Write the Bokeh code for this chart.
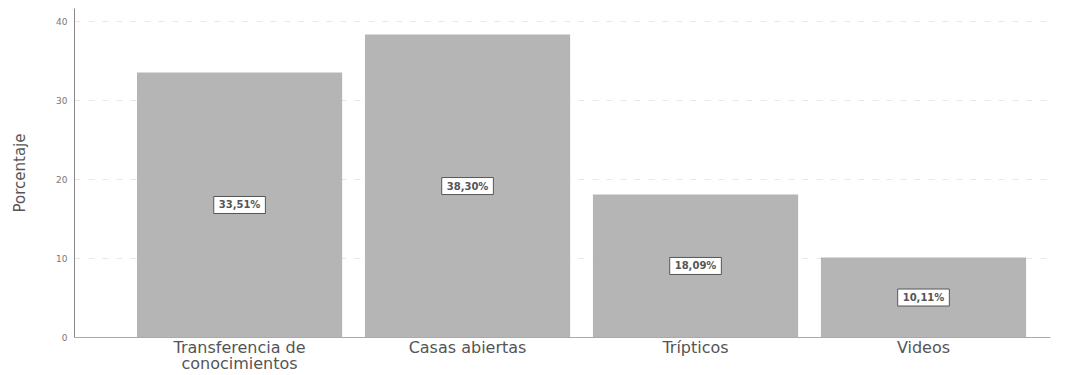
from bokeh.plotting import figure
from bokeh.models import ColumnDataSource, Label, FixedTicker, Range1d
from bokeh.embed import file_html
from bokeh.resources import INLINE

categories = ["Transferencia de\nconocimientos", "Casas abiertas", "Trípticos", "Videos"]
values = [33.51, 38.30, 18.09, 10.11]
value_labels = ["33,51%", "38,30%", "18,09%", "10,11%"]
y_ticks = [0, 10, 20, 30, 40]

xs = list(range(1, len(categories) + 1))

FONT = "DejaVu Sans"

p = figure(width=1066, height=375, output_backend="svg", toolbar_location=None,
           x_range=Range1d(0.276, 4.557), y_range=Range1d(0, 41.6),
           min_border_left=74, min_border_right=16, min_border_top=8, min_border_bottom=30)
p.outline_line_color = None
p.background_fill_color = "white"

src = ColumnDataSource(dict(x=xs, top=values))
p.vbar(x="x", top="top", width=0.9, source=src, fill_color="#b5b5b5", line_color=None)

# value labels
for x, v, lab in zip(xs, values, value_labels):
    p.add_layout(Label(x=x, y=v / 2, text=lab, text_align="center",
                       text_baseline="middle", text_font=FONT, text_font_size="10px",
                       text_font_style="bold", text_color="#555555",
                       background_fill_color="white", border_line_color="#555555",
                       border_line_width=1, padding=(5, 3)))

# axes
p.xaxis.ticker = FixedTicker(ticks=xs)
p.xaxis.major_label_overrides = {x: c for x, c in zip(xs, categories)}
p.xaxis.axis_line_color = "#aaaaaa"
p.xaxis.major_tick_line_color = None
p.xaxis.minor_tick_line_color = None
p.xaxis.major_tick_in = 0
p.xaxis.major_tick_out = 0
p.xaxis.major_label_standoff = 0
p.xaxis.major_label_text_font = FONT
p.xaxis.major_label_text_font_size = "16px"
p.xaxis.major_label_text_color = "#555555"
p.xaxis.major_label_text_line_height = 0.85

p.yaxis.ticker = FixedTicker(ticks=y_ticks)
p.yaxis.axis_line_color = "#888888"
p.yaxis.major_tick_line_color = None
p.yaxis.minor_tick_line_color = None
p.yaxis.major_tick_in = 0
p.yaxis.major_tick_out = 0
p.yaxis.major_label_text_font = FONT
p.yaxis.major_label_text_font_size = "9px"
p.yaxis.major_label_text_color = "#777777"
p.yaxis.major_label_standoff = 7
p.yaxis.axis_label = "Porcentaje"
p.yaxis.axis_label_text_font = FONT
p.yaxis.axis_label_text_font_size = "15px"
p.yaxis.axis_label_text_font_style = "normal"
p.yaxis.axis_label_text_color = "#555555"
p.yaxis.axis_label_standoff = 24

p.xgrid.grid_line_color = None
p.ygrid.grid_line_color = "#e8e8e8"
p.ygrid.grid_line_dash = "6 8"
p.ygrid.grid_line_width = 1

open("out.html", "w").write(file_html(p, INLINE))
